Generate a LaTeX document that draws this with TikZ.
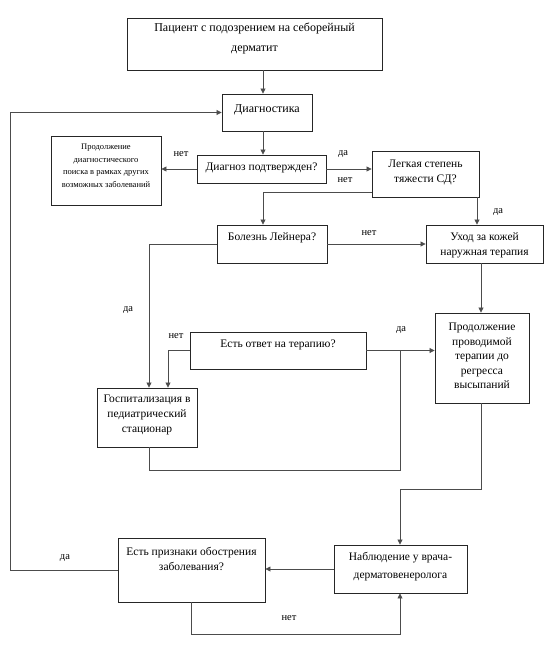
\documentclass[tikz,border=0pt]{standalone}
\usepackage{fontspec}
\setmainfont{Liberation Serif}
\usetikzlibrary{arrows.meta}
\begin{document}
\begin{tikzpicture}[x=1pt,y=-1pt,
  box/.style={draw=black!85, line width=0.9pt, inner sep=0pt, fill=white},
  txt/.style={align=center, inner sep=0pt, font=\fontsize{11.5}{15}\selectfont},
  small/.style={align=center, inner sep=0pt, font=\fontsize{8.5}{12.5}\selectfont},
  lbl/.style={inner sep=0pt, font=\fontsize{10.5}{12}\selectfont},
  conn/.style={draw=black!70, line width=0.8pt},
  arr/.style={conn, -{Triangle[length=5pt,width=5pt]}}]
\fill[white] (0,0) rectangle (554,651);
\useasboundingbox (0,0) rectangle (554,651);
% helper coordinates
\coordinate (xL) at (10.6,0);
\coordinate (xA) at (263,0);
\coordinate (xB) at (477,0);
\coordinate (xC) at (481,0);
\coordinate (xD) at (149,0);
\coordinate (xE) at (168,0);
\coordinate (xF) at (400,0);
\coordinate (xG) at (191,0);
\coordinate (yA) at (0,192);
% boxes
\node[box, minimum width=255pt, minimum height=52pt] (top) at (254.5,44) {};
\node[box, minimum width=90pt, minimum height=37pt] (diag) at (267,112.5) {};
\node[box, minimum width=110pt, minimum height=69pt] (lb) at (106,170.5) {};
\node[box, minimum width=129pt, minimum height=28pt] (dz) at (261.5,169) {};
\node[box, minimum width=107pt, minimum height=46pt] (legk) at (425.5,174) {};
\node[box, minimum width=110pt, minimum height=38pt] (bol) at (272,244) {};
\node[box, minimum width=117pt, minimum height=38pt] (uk) at (484.5,244) {};
\node[box, minimum width=94pt, minimum height=90pt] (prod) at (482,358) {};
\node[box, minimum width=176pt, minimum height=37pt] (eo) at (278,350.5) {};
\node[box, minimum width=100pt, minimum height=59pt] (gosp) at (147,417.5) {};
\node[box, minimum width=133pt, minimum height=48pt] (nab) at (400.5,569) {};
\node[box, minimum width=147pt, minimum height=64pt] (ep) at (191.5,570) {};
% texts
\node[txt, font=\fontsize{12}{20}\selectfont] (toptxt) at (254.5,38) {Пациент с подозрением на себорейный\\дерматит};
\node[txt, font=\fontsize{12}{15}\selectfont] (diagtxt) at (267,110) {Диагностика};
\node[small] (lbtxt) at (106,166) {Продолжение\\диагностического\\поиска в рамках других\\возможных заболеваний};
\node[txt] (dztxt) at (261.5,168) {Диагноз подтвержден?};
\node[txt] (legktxt) at (425.5,172.5) {Легкая степень\\тяжести СД?};
\node[txt] (boltxt) at (272,238) {Болезнь Лейнера?};
\node[txt] (uktxt) at (484.5,245) {Уход за кожей\\наружная терапия};
\node[txt, font=\fontsize{11.5}{14.5}\selectfont] (prodtxt) at (482,356) {Продолжение\\проводимой\\терапии до\\регресса\\высыпаний};
\node[txt] (eotxt) at (278,345) {Есть ответ на терапию?};
\node[txt] (gosptxt) at (147,415) {Госпитализация в\\педиатрический\\стационар};
\node[txt, font=\fontsize{11.5}{18}\selectfont] (nabtxt) at (400.5,567) {Наблюдение у врача-\\дерматовенеролога};
\node[txt] (eptxt) at (191.5,559) {Есть признаки обострения\\заболевания?};
% connectors
\draw[arr] (top.south -| xA) -- (diag.north -| xA);
\draw[arr] (diag.south -| xA) -- (dz.north -| xA);
\draw[arr] (dz.west) -- (lb.east |- dz.west);
\draw[arr] (dz.east) -- (legk.west |- dz.east);
\coordinate (legkOut) at (legk.west |- yA);
\draw[arr] (legkOut) -| (bol.north -| xA);
\draw[arr] (legk.south -| xB) -- (uk.north -| xB);
\draw[arr] (bol.east) -- (uk.west |- bol.east);
\draw[arr] (bol.west) -| (gosp.north -| xD);
\draw[arr] (uk.south -| xC) -- (prod.north -| xC);
\draw[arr] (eo.east) -- (prod.west |- eo.east);
\draw[arr] (eo.west) -| (gosp.north -| xE);
\coordinate (g1) at (149,470);
\coordinate (g2) at (400,350.5);
\draw[conn] (gosp.south -| xD) -- (g1) -| (g2);
\coordinate (p1) at (481,489);
\draw[arr] (prod.south -| xC) -- (p1) -| (nab.north -| xF);
\draw[arr] (nab.west) -- (ep.east |- nab.west);
\coordinate (loopTop) at (10.6,112.5);
\draw[arr] (ep.west) -| (loopTop) -- (diag.west);
\coordinate (b1) at (191,634);
\draw[arr] (ep.south -| xG) -- (b1) -| (nab.south -| xF);
% labels
\node[lbl] (l1) at (181,154) {нет};
\node[lbl] (l2) at (343,154) {да};
\node[lbl] (l3) at (345,180) {нет};
\node[lbl] (l4) at (498,212) {да};
\node[lbl] (l5) at (369,233) {нет};
\node[lbl] (l6) at (128,310) {да};
\node[lbl] (l7) at (176,336) {нет};
\node[lbl] (l8) at (401,330) {да};
\node[lbl] (l9) at (65,558) {да};
\node[lbl] (l10) at (289,618) {нет};
\end{tikzpicture}
\end{document}
